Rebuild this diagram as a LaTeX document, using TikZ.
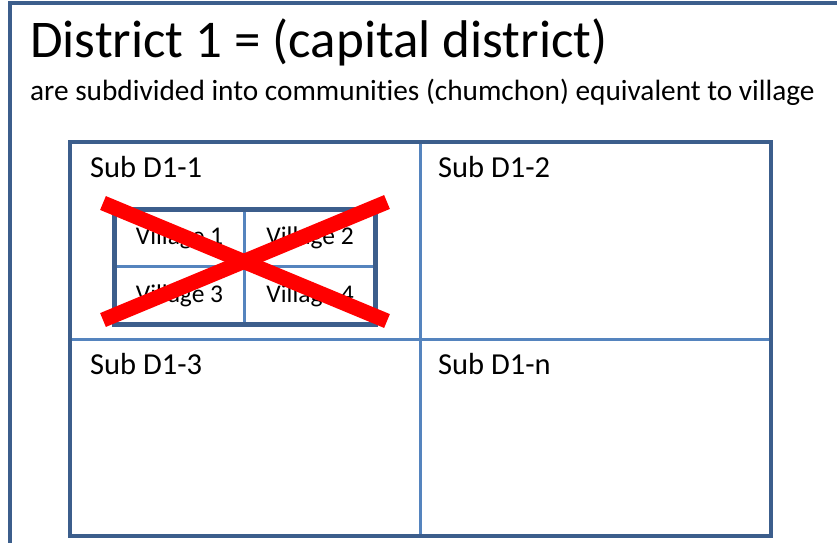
\documentclass[tikz,border=0pt]{standalone}
\usepackage{fontspec}
\setmainfont{Carlito}[Ligatures=NoCommon]
\usepackage{xcolor}
\usetikzlibrary{positioning}

\definecolor{frameblue}{HTML}{3C5E8C}
\definecolor{lineblue}{HTML}{5584BE}
\definecolor{crossred}{HTML}{FF0000}

\tikzset{
    titletext/.style={anchor=base west, inner sep=0pt, font=\fontsize{53}{56}\selectfont},
    subtext/.style={anchor=base west, inner sep=0pt, font=\fontsize{29.3}{32}\selectfont},
    subcell/.style={draw=lineblue, line width=1.6pt, anchor=north west, minimum width=349pt, minimum height=195.5pt, inner sep=0pt},
    subname/.style={anchor=base west, inner sep=0pt, font=\fontsize{30.5}{33}\selectfont},
    villcell/.style={draw=lineblue, line width=1.6pt, minimum width=129pt, minimum height=56pt, inner sep=0pt, font=\fontsize{25.5}{28}\selectfont},
    thickframe/.style={draw=frameblue, line width=4.5pt},
    crossbar/.style={draw=crossred, line width=15pt}
}

\begin{document}
\begin{tikzpicture}[x=1pt, y=-1pt, >=latex]
    \clip (0,0) rectangle (837,542);
    \fill[white] (0,0) rectangle (837,542);

    % cadre exterieur (coupe par le bord)
    \draw[thickframe] (10,560) -- (10,3) -- (850,3);

    % titres
    \node[titletext] (title) at (30,57) {District 1 = (capital district)};
    \node[subtext] (subtitle) at (30,100) {are subdivided into communities (chumchon) equivalent to village};

    % tableau des sous-districts
    \node[subcell] (sub1) at (70,142) {};
    \node[subcell, anchor=north west] (sub2) at (sub1.north east) {};
    \node[subcell, anchor=north west] (sub3) at (sub1.south west) {};
    \node[subcell, anchor=north west] (subn) at (sub1.south east) {};
    \draw[thickframe] (sub1.north west) rectangle (subn.south east);

    \node[subname] (name1) at (90,177) {Sub D1-1};
    \node[subname] (name2) at (438,177) {Sub D1-2};
    \node[subname] (name3) at (90,374) {Sub D1-3};
    \node[subname] (namen) at (438,374) {Sub D1-n};

    % villages
    \node[villcell] (vill1) at (179.5,238) {Village 1};
    \node[villcell, right=0pt of vill1] (vill2) {Village 2};
    \node[villcell, below=0pt of vill1] (vill3) {Village 3};
    \node[villcell, below=0pt of vill2] (vill4) {Village 4};
    \draw[thickframe, line width=5pt] (vill1.north west) rectangle (vill4.south east);

    % croix rouge
    \coordinate (xa) at (103,203);
    \coordinate (xb) at (387,321);
    \coordinate (xc) at (387,202);
    \coordinate (xd) at (103,320);
    \draw[crossbar] (xa) -- (xb);
    \draw[crossbar] (xc) -- (xd);
\end{tikzpicture}
\end{document}
